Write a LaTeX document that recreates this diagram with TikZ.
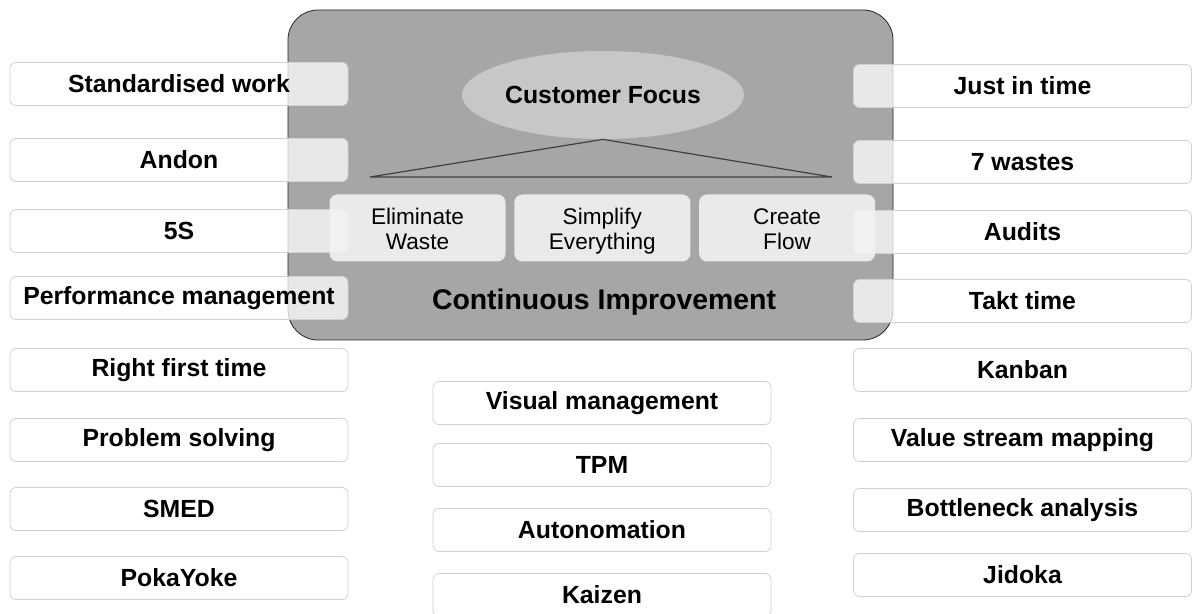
\documentclass[tikz,border=0pt]{standalone}
\usepackage{fontspec}
\setmainfont{Liberation Sans}
\usetikzlibrary{positioning,shapes.geometric}
\tikzset{
    core/.style={rectangle,rounded corners=15pt,draw=black!85,fill=black!35,minimum width=302.5pt,minimum height=165pt},
    tool/.style={rectangle,rounded corners=3pt,draw=black!18,fill=white,fill opacity=0.75,text opacity=1,
                 minimum width=169pt,minimum height=21.5pt,inner sep=0pt,font=\fontsize{12.4}{14}\selectfont\bfseries},
    pillar/.style={rectangle,rounded corners=4pt,fill=black!5,fill opacity=0.9,text opacity=1,
                   minimum width=88pt,minimum height=33.5pt,inner sep=0pt,align=center,font=\fontsize{11.3}{12.5}\selectfont,
                   text height=27.5pt,text depth=5.5pt},
    focus/.style={ellipse,fill=black!22,minimum width=141pt,minimum height=44pt,inner sep=0pt},
    title/.style={font=\fontsize{14.2}{16}\selectfont\bfseries},
    roof/.style={draw=black!75,semithick}
}

\begin{document}
\begin{tikzpicture}[x=0.5pt,y=-0.5pt]
    \useasboundingbox (0,0) rectangle (1201,614);

    % the house in the middle
    \node[core]  (house) at (590.5,175) {};

    % tools on the left
    \node[tool] (std)   at (179,84)  {Standardised work};
    \node[tool] (andon) at (179,160) {Andon};
    \node[tool] (fives) at (179,231) {5S};
    \node[tool] (perf)  at (179,298) {Performance management};
    \node[tool] (rft)   at (179,370) {Right first time};
    \node[tool] (probs) at (179,440) {Problem solving};
    \node[tool] (smed)  at (179,509) {SMED};
    \node[tool] (poka)  at (179,578) {PokaYoke};

    % tools on the right
    \node[tool] (jit)    at (1022.5,86)  {Just in time};
    \node[tool] (wastes) at (1022.5,162) {7 wastes};
    \node[tool] (audits) at (1022.5,232) {Audits};
    \node[tool] (takt)   at (1022.5,301) {Takt time};
    \node[tool] (kanban) at (1022.5,370) {Kanban};
    \node[tool] (vsm)    at (1022.5,440) {Value stream mapping};
    \node[tool] (bottle) at (1022.5,510) {Bottleneck analysis};
    \node[tool] (jidoka) at (1022.5,575) {Jidoka};

    % tools underneath
    \node[tool] (visual) at (602,403) {Visual management};
    \node[tool] (tpm)    at (602,465) {TPM};
    \node[tool] (auto)   at (602,530) {Autonomation};
    \node[tool] (kaizen) at (602,595) {Kaizen};

    % roof
    \node[focus] (cust) at (603,95) {};
    \coordinate (eaveL) at (370,177);
    \coordinate (eaveR) at (832,177);
    \draw[roof] (eaveL) -- (cust.south) -- (eaveR) -- cycle;
    \node[title,font=\fontsize{12.4}{14}\selectfont\bfseries] (custtext) at (cust) {Customer Focus};

    % pillars
    \node[pillar] (elim) at (417.5,228)          {Eliminate\\Waste};
    \node[pillar] (simp) [right=4pt of elim]     {Simplify\\Everything};
    \node[pillar] (flow) [right=4pt of simp]     {Create\\Flow};

    % floor
    \node[title] (ci) at (604,302) {Continuous Improvement};
\end{tikzpicture}
\end{document}
